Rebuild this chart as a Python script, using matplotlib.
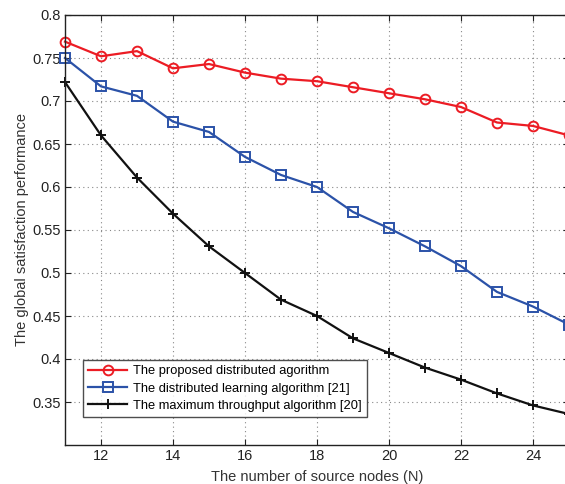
import numpy as np
import matplotlib
matplotlib.use('Agg')
import matplotlib.pyplot as plt

plt.rcParams['font.family'] = ['Liberation Sans', 'DejaVu Sans']

# source nodes
n_nodes = list(range(11, 26))

# global satisfaction for each method
proposed = [0.769, 0.752, 0.758, 0.738, 0.743, 0.733, 0.726, 0.723,
            0.716, 0.709, 0.702, 0.693, 0.675, 0.671, 0.660]
learning = [0.750, 0.717, 0.706, 0.676, 0.664, 0.635, 0.614, 0.600,
            0.571, 0.552, 0.531, 0.508, 0.478, 0.461, 0.440]
max_thr = [0.722, 0.660, 0.611, 0.569, 0.531, 0.500, 0.469, 0.450,
           0.424, 0.407, 0.390, 0.376, 0.360, 0.346, 0.336]

labels = ['The proposed distributed agorithm',
          'The distributed learning algorithm [21]',
          'The maximum throughput algorithm [20]']

xticks = [12, 14, 16, 18, 20, 22, 24]
yticks = [0.35, 0.4, 0.45, 0.5, 0.55, 0.6, 0.65, 0.7, 0.75, 0.8]
ytick_labels = ['0.35', '0.4', '0.45', '0.5', '0.55', '0.6', '0.65', '0.7', '0.75', '0.8']

fig = plt.figure(figsize=(5.65, 4.84), dpi=100)
ax = fig.add_axes([65 / 565, 39 / 484, 504 / 565, 430 / 484])

ax.plot(n_nodes, proposed, color='#ec1c24', lw=1.6, marker='o', ms=7,
        mfc='none', mew=1.4, label=labels[0], clip_on=False)
ax.plot(n_nodes, learning, color='#2b52a8', lw=1.6, marker='s', ms=7,
        mfc='none', mew=1.4, label=labels[1], clip_on=False)
ax.plot(n_nodes, max_thr, color='#111111', lw=1.6, marker='+', ms=7,
        mew=1.4, label=labels[2], clip_on=False)

ax.set_xlim(11, 25)
ax.set_ylim(0.3, 0.8)
ax.set_xticks(xticks)
ax.set_yticks(yticks)
ax.set_yticklabels(ytick_labels)
ax.grid(True, ls=(0, (1, 3)), color='#888888', lw=0.8)
ax.tick_params(direction='in', top=True, right=True, labelsize=10.5,
               colors='#222222', length=4, pad=3)
for s in ax.spines.values():
    s.set_color('#222222')
    s.set_linewidth(1.0)

ax.set_xlabel('The number of source nodes (N)', fontsize=10.5, color='#333333', labelpad=5)
ax.set_ylabel('The global satisfaction performance', fontsize=10.5, color='#333333')
ax.yaxis.set_label_coords(-0.072, 0.5)

leg = ax.legend(loc='lower left', bbox_to_anchor=(0.036, 0.065), fontsize=9.3,
                frameon=True, fancybox=False, edgecolor='#222222',
                handlelength=3.0, borderpad=0.4, labelspacing=0.4,
                handletextpad=0.45, borderaxespad=0)
leg.get_frame().set_linewidth(1.0)

fig.savefig('out.png', dpi=100)
